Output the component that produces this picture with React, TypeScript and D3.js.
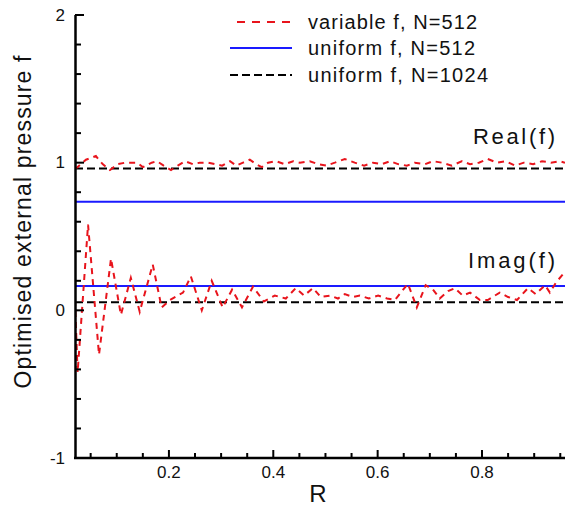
import React from "react";
import * as d3 from "d3";

// variable f, N=512 — real part
const realR = [0.020, 0.025, 0.041, 0.060, 0.073, 0.087, 0.102, 0.116, 0.129, 0.139, 0.150, 0.167, 0.177, 0.190, 0.204, 0.217, 0.231, 0.246, 0.259, 0.275, 0.288, 0.302, 0.317, 0.329, 0.342, 0.355, 0.367, 0.378, 0.390, 0.405, 0.422, 0.438, 0.451, 0.470, 0.486, 0.501, 0.518, 0.537, 0.556, 0.574, 0.591, 0.608, 0.624, 0.639, 0.656, 0.671, 0.691, 0.706, 0.723, 0.742, 0.762, 0.777, 0.794, 0.811, 0.829, 0.846, 0.863, 0.880, 0.898, 0.915, 0.932, 0.949, 0.959];
const realF = [0.96, 0.97, 1.02, 1.045, 0.99, 0.95, 0.99, 1.00, 1.00, 1.00, 0.97, 1.00, 1.01, 0.98, 0.95, 0.98, 1.01, 0.99, 1.00, 1.00, 0.99, 0.98, 1.01, 0.98, 1.00, 1.02, 0.99, 0.97, 1.00, 1.01, 0.99, 1.01, 1.00, 1.01, 0.99, 0.98, 1.00, 1.025, 1.00, 0.98, 1.00, 0.99, 1.01, 0.99, 0.98, 1.00, 0.99, 1.01, 1.00, 0.98, 1.01, 0.99, 1.00, 1.025, 1.00, 1.01, 0.98, 1.00, 0.99, 1.01, 1.00, 1.01, 1.00];

// variable f, N=512 — imaginary part
const imagR = [0.020, 0.025, 0.045, 0.066, 0.089, 0.108, 0.127, 0.144, 0.169, 0.186, 0.202, 0.227, 0.242, 0.263, 0.282, 0.303, 0.321, 0.340, 0.361, 0.382, 0.403, 0.424, 0.443, 0.459, 0.476, 0.491, 0.509, 0.524, 0.537, 0.553, 0.566, 0.583, 0.601, 0.618, 0.633, 0.658, 0.675, 0.692, 0.706, 0.719, 0.735, 0.748, 0.763, 0.777, 0.796, 0.811, 0.834, 0.850, 0.867, 0.888, 0.903, 0.921, 0.930, 0.942, 0.959];
const imagF = [0.07, -0.42, 0.58, -0.30, 0.35, -0.03, 0.22, -0.01, 0.31, 0.02, 0.07, 0.12, 0.23, 0.00, 0.20, 0.02, 0.14, 0.02, 0.16, 0.06, 0.10, 0.08, 0.15, 0.10, 0.15, 0.09, 0.10, 0.08, 0.11, 0.09, 0.10, 0.08, 0.10, 0.08, 0.07, 0.18, 0.02, 0.17, 0.14, 0.08, 0.13, 0.15, 0.10, 0.12, 0.07, 0.07, 0.12, 0.09, 0.07, 0.15, 0.11, 0.17, 0.12, 0.19, 0.26];

// uniform f levels
const uniform512 = [0.735, 0.165];
const uniform1024 = [0.96, 0.054];

const xDomain = [0.02, 0.96];
const yDomain = [-1, 2];
const xMajorTicks = [0.2, 0.4, 0.6, 0.8];
const xTickLabels = ["0.2", "0.4", "0.6", "0.8"];
const yMajorTicks = [-1, 0, 1, 2];
const yTickLabels = ["-1", "0", "1", "2"];

const legendLabels = ["variable f, N=512", "uniform f, N=512", "uniform f, N=1024"];

const FONT = "'Liberation Sans', Arial, sans-serif";

export default function App() {
  const W = 565, H = 506;
  const x = d3.scaleLinear().domain(xDomain).range([75, 565.5]);
  const y = d3.scaleLinear().domain(yDomain).range([458, 15]);
  const line = d3.line<[number, number]>().x(d => x(d[0])).y(d => y(d[1]));
  const realPts = realR.map((r, i) => [r, realF[i]] as [number, number]);
  const imagPts = imagR.map((r, i) => [r, imagF[i]] as [number, number]);

  const xMinor = d3.range(0.05, 0.96, 0.05).filter(v => Math.abs(v * 5 - Math.round(v * 5)) > 1e-6);
  const yMinor = d3.range(-1, 2.001, 0.2).filter(v => Math.abs(v - Math.round(v)) > 1e-6);

  const redDash = "6,5";
  const blackDash = "8,4";
  const txt = "#111";

  return (
    <svg width={W} height={H} style={{ position: "absolute", left: 0, top: 0, background: "#fff" }} fontFamily={FONT}>
      <rect width={W} height={H} fill="#fff" />
      <defs>
        <clipPath id="plot">
          <rect x={75} y={0} width={W - 75} height={458} />
        </clipPath>
      </defs>
      <g clipPath="url(#plot)">
        {uniform1024.map((v, i) => (
          <line key={"k" + i} x1={x(xDomain[0])} x2={x(xDomain[1])} y1={y(v)} y2={y(v)} stroke="#000" strokeWidth={2} strokeDasharray={blackDash} />
        ))}
        {uniform512.map((v, i) => (
          <line key={"b" + i} x1={x(xDomain[0])} x2={x(xDomain[1])} y1={y(v)} y2={y(v)} stroke="#1a1aff" strokeWidth={2} />
        ))}
        <path d={line(realPts) || ""} fill="none" stroke="#e8141c" strokeWidth={2} strokeDasharray={redDash} />
        <path d={line(imagPts) || ""} fill="none" stroke="#e8141c" strokeWidth={2} strokeDasharray={redDash} />
      </g>

      {/* axes */}
      <line x1={75.5} x2={75.5} y1={15} y2={459} stroke="#000" strokeWidth={2.5} />
      <line x1={74} x2={565} y1={458} y2={458} stroke="#000" strokeWidth={2.5} />
      {yMinor.map((v, i) => (
        <line key={"ym" + i} x1={75} x2={81} y1={y(v)} y2={y(v)} stroke="#000" strokeWidth={2} />
      ))}
      {yMajorTicks.map((v, i) => (
        <line key={"yM" + i} x1={75} x2={84} y1={y(v)} y2={y(v)} stroke="#000" strokeWidth={2} />
      ))}
      {yMajorTicks.map((v, i) => (
        <text key={"yl" + i} x={65} y={y(v)} textAnchor="end" dominantBaseline="central" fontSize={17} fill={txt}>{yTickLabels[i]}</text>
      ))}
      {xMinor.map((v, i) => (
        <line key={"xm" + i} x1={x(v)} x2={x(v)} y1={458} y2={453} stroke="#000" strokeWidth={2} />
      ))}
      {xMajorTicks.map((v, i) => (
        <line key={"xM" + i} x1={x(v)} x2={x(v)} y1={458} y2={450} stroke="#000" strokeWidth={2} />
      ))}
      {xMajorTicks.map((v, i) => (
        <text key={"xl" + i} x={x(v)} y={478} textAnchor="middle" fontSize={17} fill={txt}>{xTickLabels[i]}</text>
      ))}
      <text x={318} y={502} textAnchor="middle" fontSize={24} fill={txt}>R</text>
      <text transform="translate(31,222) rotate(-90)" textAnchor="middle" fontSize={23} fill={txt} textLength={333} lengthAdjust="spacing">Optimised external pressure f</text>

      {/* curve labels */}
      <text x={473} y={144} fontSize={22} fill={txt} textLength={82} lengthAdjust="spacing">Real(f)</text>
      <text x={468} y={268} fontSize={22} fill={txt} textLength={87} lengthAdjust="spacing">Imag(f)</text>

      {/* legend */}
      <line x1={237} x2={292} y1={22} y2={22} stroke="#e8141c" strokeWidth={2} strokeDasharray="8,7" />
      <line x1={230} x2={292} y1={48} y2={48} stroke="#1a1aff" strokeWidth={2} />
      <line x1={230} x2={292} y1={75} y2={75} stroke="#000" strokeWidth={2} strokeDasharray={blackDash} />
      {legendLabels.map((t, i) => (
        <text key={"lg" + i} x={308} y={[29, 55, 82][i]} fontSize={20} fill={txt} textLength={[169, 167, 180][i]} lengthAdjust="spacing">{t}</text>
      ))}
    </svg>
  );
}
